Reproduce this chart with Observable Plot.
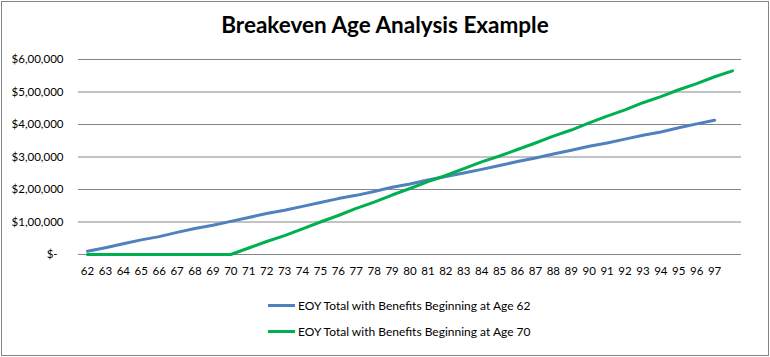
<!DOCTYPE html>
<html>
<head>
<meta charset="utf-8">
<script src="https://cdn.jsdelivr.net/npm/d3@7"></script>
<script src="https://cdn.jsdelivr.net/npm/@observablehq/plot@0.6"></script>
<style>
  html, body { margin: 0; padding: 0; background: #fff; }
  #wrap { position: absolute; left: 0; top: 0; width: 770px; height: 357px; overflow: hidden; font-family: Lato, "Open Sans", sans-serif; }
  #frame { position: absolute; left: 1px; top: 1px; width: 766px; height: 353px; border: 1px solid #868686; }
  #title { position: absolute; left: 0; width: 770px; top: 11px; text-align: center; font-weight: bold; font-size: 22.5px; color: #000; line-height: 28px; }
  #chart { position: absolute; left: 0; top: 0; }
  .leg { position: absolute; left: 268px; height: 16px; display: flex; align-items: center; font-size: 12px; color: #000; white-space: nowrap; }
  .leg .sw { width: 27px; height: 3px; margin-right: 3px; }
</style>
</head>
<body>
<div id="wrap">
  <div id="frame"></div>
  <div id="chart"></div>
  <div id="title">Breakeven Age Analysis Example</div>
  <div id="legend"></div>
</div>
<script>
// ---- data ----
const ages = d3.range(62, 99); // 62 .. 98
const tickAges = d3.range(62, 98); // labels 62 .. 97 shown
const seriesNames = ["EOY Total with Benefits Beginning at Age 62", "EOY Total with Benefits Beginning at Age 70"];
const seriesColors = ["#4F81BD", "#00B050"];
const age62Ages = d3.range(62, 98);
const age62Values = [10000, 21000, 33000, 45000, 55000, 68000, 80000, 90000, 102000, 114000,
  126000, 136000, 148000, 160000, 172000, 182000, 194000, 207000, 217000, 229000,
  240000, 251000, 262000, 274000, 286000, 297000, 309000, 321000, 333000, 343000,
  355000, 367000, 377000, 390000, 402000, 413000];
const age70Ages = d3.range(62, 99);
const age70Values = [0, 0, 0, 0, 0, 0, 0, 0, 0, 20000,
  40000, 58000, 79000, 100000, 120000, 142000, 161000, 183000, 203000, 224000,
  243000, 264000, 285000, 303000, 323000, 343000, 364000, 383000, 405000, 426000,
  445000, 467000, 486000, 507000, 526000, 547000, 565000];
const yTicks = [0, 100000, 200000, 300000, 400000, 500000, 600000];
const yTickLabels = ["$-\u00a0\u00a0", "$1,00,000", "$2,00,000", "$3,00,000", "$4,00,000", "$5,00,000", "$6,00,000"];

const rows = [
  ...age62Ages.map((a, i) => ({age: a, value: age62Values[i], series: seriesNames[0]})),
  ...age70Ages.map((a, i) => ({age: a, value: age70Values[i], series: seriesNames[1]}))
];

const chart = Plot.plot({
  width: 770,
  height: 300,
  marginTop: 59,
  marginBottom: 46,
  marginLeft: 78,
  marginRight: 29,
  style: {fontFamily: "Lato, 'Open Sans', sans-serif", fontSize: "11.5px", color: "#000", background: "transparent"},
  x: {type: "point", domain: ages, padding: 0.5, label: null},
  y: {domain: [0, 600000], label: null},
  color: {domain: seriesNames, range: seriesColors},
  marks: [
    Plot.ruleY(yTicks, {stroke: "#868686", strokeWidth: 1}),
    Plot.axisY(yTicks, {tickSize: 0, tickPadding: 15, label: null, tickFormat: (d) => yTickLabels[yTicks.indexOf(d)], fill: "#000"}),
    Plot.axisX(tickAges, {tickSize: 0, tickPadding: 12, label: null, fill: "#000"}),
    Plot.line(rows, {x: "age", y: "value", z: "series", stroke: "series", strokeWidth: 3, strokeLinejoin: "round", strokeLinecap: "round"})
  ]
});
document.getElementById("chart").appendChild(chart);

// legend
const leg = document.getElementById("legend");
seriesNames.forEach((n, i) => {
  const d = document.createElement("div");
  d.className = "leg";
  d.style.top = (297 + i * 26) + "px";
  const sw = document.createElement("span");
  sw.className = "sw";
  sw.style.background = seriesColors[i];
  const t = document.createElement("span");
  t.textContent = n;
  d.appendChild(sw);
  d.appendChild(t);
  leg.appendChild(d);
});
</script>
</body>
</html>
